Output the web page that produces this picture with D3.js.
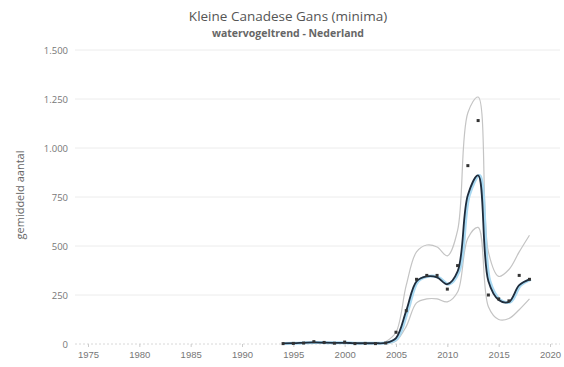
<!DOCTYPE html>
<html>
<head>
<meta charset="utf-8">
<script src="https://cdn.jsdelivr.net/npm/d3@7"></script>
<style>
  html, body { margin: 0; padding: 0; background: #fff; }
  svg { display: block; font-family: "Open Sans", "DejaVu Sans", sans-serif; }
</style>
</head>
<body>
<svg id="chart" width="564" height="367"></svg>
<script>
// Winter seasons and observed averages
const years = [1994,1995,1996,1997,1998,1999,2000,2001,2002,2003,2004,2005,2006,2007,2008,2009,2010,2011,2012,2013,2014,2015,2016,2017,2018];
const observed = [2,3,5,12,8,4,10,2,3,2,5,60,170,330,350,350,280,400,910,1140,250,230,220,350,330];
// Smoothed trend with its upper and lower bounds
const trend = [3,4,6,8,7,6,6,4,4,4,6,30,170,320,345,340,305,370,760,860,320,225,215,300,330];
const upper = [null,null,null,null,null,null,null,null,null,null,12,60,300,470,505,495,450,580,1180,1260,470,345,380,470,555];
const lower = [null,null,null,null,null,null,null,null,null,null,2,15,90,210,230,230,215,265,540,595,190,125,130,175,230];
const yTicks = [0,250,500,750,1000,1250,1500];
const xTicks = [1975,1980,1985,1990,1995,2000,2005,2010,2015,2020];

const svg = d3.select("#chart");
const plotLeft = 75, plotRight = 560, plotTop = 50, plotBottom = 344;

const x = d3.scaleLinear().domain([1975, 2020]).range([88, 550]);
const y = d3.scaleLinear().domain([0, 1500]).range([plotBottom, plotTop]);

const fmt = v => d3.format(",")(v).replace(/,/g, ".");

// Title block
svg.append("text").attr("x", 288).attr("y", 21).attr("text-anchor", "middle")
  .attr("font-size", 13.5).attr("fill", "#555").text("Kleine Canadese Gans (minima)");
svg.append("text").attr("x", 288).attr("y", 37).attr("text-anchor", "middle")
  .attr("font-size", 10.5).attr("font-weight", "bold").attr("fill", "#666").text("watervogeltrend - Nederland");

// Horizontal gridlines and value labels
const grid = svg.append("g");
grid.selectAll("line").data(yTicks.filter(d => d > 0)).join("line")
  .attr("x1", plotLeft).attr("x2", plotRight)
  .attr("y1", d => y(d)).attr("y2", d => y(d))
  .attr("stroke", "#ececec").attr("stroke-width", 1);
grid.selectAll("text").data(yTicks).join("text")
  .attr("x", 68).attr("y", d => y(d) + 3.5).attr("text-anchor", "end")
  .attr("font-size", 9.5).attr("fill", "#777").text(fmt);

// Baseline with tick marks
svg.append("line").attr("x1", plotLeft).attr("x2", plotRight).attr("y1", plotBottom).attr("y2", plotBottom)
  .attr("stroke", "#d8d8d8").attr("stroke-dasharray", "2,2");
const xAxis = d3.axisBottom(x).tickValues(xTicks).tickFormat(d3.format("d")).tickSize(3);
const gx = svg.append("g").attr("transform", `translate(0,${plotBottom})`).call(xAxis);
gx.select(".domain").remove();
gx.selectAll(".tick line").attr("stroke", "#ccc");
gx.selectAll(".tick text").attr("font-size", 9.5).attr("fill", "#777").attr("dy", "0.85em");

// Axis title
svg.append("text").attr("transform", "translate(24,195) rotate(-90)")
  .attr("text-anchor", "middle").attr("font-size", 11).attr("fill", "#666").text("gemiddeld aantal");

const rows = years.map((yr, i) => ({ yr, obs: observed[i], t: trend[i], u: upper[i], l: lower[i] }));
const curve = d3.curveCatmullRom.alpha(0.5);

const line = key => d3.line()
  .defined(d => d[key] != null)
  .x(d => x(d.yr)).y(d => y(d[key])).curve(curve);

// Confidence bounds
svg.append("path").datum(rows).attr("d", line("u"))
  .attr("fill", "none").attr("stroke", "#c4c4c4").attr("stroke-width", 1.2);
svg.append("path").datum(rows).attr("d", line("l"))
  .attr("fill", "none").attr("stroke", "#c4c4c4").attr("stroke-width", 1.2);

// Trend: light blue halo under a dark line
svg.append("path").datum(rows).attr("d", line("t"))
  .attr("fill", "none").attr("stroke", "#a9d9f2").attr("stroke-width", 3)
  .attr("transform", "translate(1.5,0)");
svg.append("path").datum(rows).attr("d", line("t"))
  .attr("fill", "none").attr("stroke", "#1f2d3d").attr("stroke-width", 1.8);

// Observed values
svg.append("g").selectAll("rect").data(rows).join("rect")
  .attr("x", d => x(d.yr) - 1.5).attr("y", d => y(d.obs) - 1.5)
  .attr("width", 3).attr("height", 3).attr("fill", "#333");
</script>
</body>
</html>
